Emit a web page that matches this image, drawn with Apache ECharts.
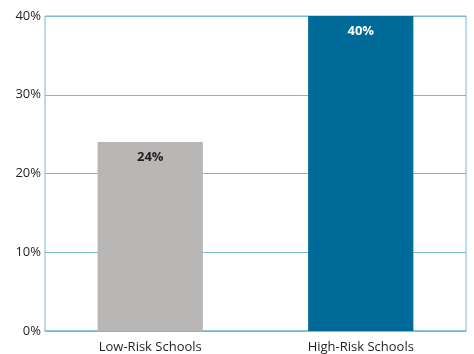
<!DOCTYPE html>
<html><head><meta charset="utf-8">
<script src="https://cdn.jsdelivr.net/npm/echarts@6/dist/echarts.min.js"></script>
<style>html,body{margin:0;padding:0;background:#fff}#c{width:474px;height:354px}</style>
</head><body><div id="c"></div>
<script>
var categories = ['Low-Risk Schools', 'High-Risk Schools'];
var values = [24, 40];
var yTicks = [0, 10, 20, 30, 40];
var barColors = ['#b8b7b5', '#006a99'];
var labelColors = ['#231f20', '#ffffff'];

var chart = echarts.init(document.getElementById('c'), null, {renderer: 'canvas'});
chart.setOption({
  animation: false,
  grid: {left: 45, right: 8, top: 16, bottom: 22, show: true, borderColor: '#79b9d6', borderWidth: 1},
  xAxis: {
    type: 'category', data: categories,
    axisLine: {lineStyle: {color: '#79b9d6', width: 1.5}},
    axisTick: {show: false},
    axisLabel: {color: '#231f20', fontSize: 13, fontFamily: 'Open Sans', margin: 10}
  },
  yAxis: {
    type: 'value', min: 0, max: 40, interval: 10,
    axisLine: {show: false}, axisTick: {show: false},
    splitLine: {lineStyle: {color: '#79b9d6', width: 1}},
    axisLabel: {color: '#231f20', fontSize: 13, fontFamily: 'Open Sans', margin: 4, formatter: '{value}%'}
  },
  series: [{
    type: 'bar', barWidth: '50%',
    data: values.map(function (v, i) {
      return {value: v, itemStyle: {color: barColors[i]},
        label: {color: labelColors[i]}};
    }),
    label: {show: true, position: 'insideTop', distance: 9, fontWeight: 'bold', fontSize: 13,
      fontFamily: 'Open Sans', formatter: '{c}%'}
  }]
});
</script></body></html>
